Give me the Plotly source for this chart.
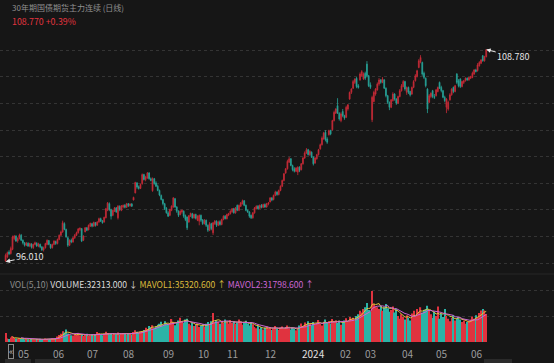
import pandas as pd
import plotly.graph_objects as go

# ---------------- data ----------------
open_ = [96.05,96.30,96.60,96.50,96.75,97.40,97.55,97.25,97.40,97.60,
97.30,97.15,97.00,97.12,96.95,97.08,96.85,97.05,97.12,96.95,
97.05,96.90,96.72,96.85,97.05,97.28,97.05,96.85,97.05,97.22,
97.10,97.35,97.60,97.80,98.30,97.95,97.45,97.00,97.30,97.20,
97.45,97.60,97.75,97.95,98.00,97.30,97.80,98.05,97.92,98.15,
98.30,98.15,98.36,98.20,98.40,98.60,98.45,98.40,98.65,99.10,
99.50,99.15,98.80,99.05,99.25,98.65,99.35,99.10,99.30,99.40,
99.28,99.50,99.38,99.48,99.72,100.15,100.75,100.52,100.42,100.70,
101.25,100.95,101.05,101.35,101.00,100.28,101.00,100.75,100.55,100.30,
100.00,99.75,99.50,99.22,98.95,98.80,99.10,99.30,99.80,99.30,
99.05,98.85,99.00,99.05,98.78,98.70,98.40,98.75,98.90,98.65,
98.85,98.50,98.45,98.80,98.52,98.30,98.50,98.20,97.90,98.30,
97.75,98.30,98.45,98.20,98.42,98.25,98.55,98.75,98.60,98.82,
98.90,99.02,99.20,98.95,99.40,99.10,99.35,99.50,99.68,99.40,
99.10,99.00,98.80,98.65,98.95,99.20,99.35,99.22,99.40,99.28,
99.45,99.30,99.48,99.60,99.85,99.75,100.00,100.20,100.05,100.30,
100.55,100.90,101.35,101.60,102.00,102.20,101.80,101.60,101.45,101.40,
101.70,101.55,101.90,102.25,102.55,102.75,102.45,102.60,102.30,101.95,
102.20,102.45,102.80,103.05,103.40,103.80,103.40,103.65,103.90,103.95,
104.50,104.95,105.40,104.95,104.50,105.05,104.80,104.70,105.20,105.80,
106.20,106.45,106.80,107.05,106.60,106.95,107.20,107.00,107.35,107.90,
107.20,106.65,104.55,105.65,106.10,106.35,106.70,106.95,106.80,106.95,
106.45,106.00,105.60,105.30,105.70,106.10,105.80,105.55,105.95,106.30,
106.55,106.85,106.20,106.50,106.25,106.10,106.50,106.90,107.15,107.70,
108.05,108.00,107.35,107.05,106.40,105.60,105.95,106.30,105.95,106.00,
106.25,106.80,106.50,106.30,105.90,105.30,105.20,105.75,106.05,106.50,
106.25,107.30,106.90,107.00,106.55,106.80,106.90,107.05,106.95,107.05,
107.10,107.30,107.55,107.50,107.80,107.95,108.40,108.10,108.35]

high = [96.50,96.62,96.70,96.92,97.58,97.62,97.60,97.48,97.70,97.68,
97.35,97.20,97.20,97.18,97.15,97.12,97.10,97.22,97.18,97.15,
97.10,96.95,96.92,97.15,97.35,97.32,97.08,97.10,97.30,97.28,
97.40,97.65,97.88,98.48,98.38,98.00,97.50,97.35,97.40,97.50,
97.68,97.82,98.04,98.08,98.04,97.60,98.10,98.10,98.25,98.36,
98.35,98.42,98.40,98.45,98.66,98.66,98.52,98.72,99.25,99.60,
99.58,99.20,99.15,99.30,99.30,99.42,99.40,99.42,99.45,99.48,
99.55,99.54,99.52,99.54,99.92,100.82,100.80,100.60,100.70,101.32,
101.30,101.18,101.41,101.40,101.08,101.08,101.05,100.85,100.65,100.35,
100.05,99.80,99.55,99.30,99.05,99.20,99.40,99.90,99.85,99.35,
99.10,99.10,99.15,99.10,98.85,98.72,98.82,98.96,98.95,98.90,
98.90,98.80,98.85,98.85,98.58,98.58,98.55,98.25,98.40,98.35,
98.40,98.52,98.50,98.48,98.50,98.60,98.80,98.82,98.90,98.95,
99.10,99.24,99.25,99.30,99.45,99.45,99.60,99.75,99.72,99.45,
99.15,99.05,98.85,99.00,99.30,99.40,99.42,99.45,99.48,99.50,
99.52,99.55,99.60,99.90,99.90,100.05,100.28,100.25,100.35,100.60,
100.95,101.35,101.65,102.15,102.31,102.25,101.85,101.70,101.70,101.75,
101.75,101.95,102.30,102.65,102.85,102.80,102.72,102.65,102.35,102.30,
102.50,102.80,103.12,103.55,103.82,103.93,103.50,103.95,103.95,104.55,
105.10,105.25,105.85,105.00,105.00,105.20,104.85,105.40,105.50,106.25,
106.45,106.95,107.05,107.12,106.70,107.40,107.54,107.40,107.45,108.08,
107.25,106.80,106.00,106.30,106.46,106.80,107.06,107.00,107.12,107.00,
106.50,106.05,105.65,105.80,106.21,106.15,105.85,106.00,106.40,106.70,
106.94,106.90,106.55,106.55,106.30,106.55,106.94,107.30,107.56,108.20,
108.44,108.05,107.45,107.10,106.45,106.10,106.20,106.35,106.10,106.40,
106.55,106.85,106.60,106.35,106.00,105.85,105.70,106.15,106.45,106.55,
106.65,107.36,107.00,107.05,106.90,106.95,107.10,107.10,107.12,107.20,
107.45,107.60,107.62,107.96,108.08,108.20,108.45,108.40,108.78]

low = [96.01,96.22,96.40,96.44,96.70,97.30,97.20,97.15,97.35,97.25,
97.05,96.92,96.95,96.90,96.88,96.80,96.78,97.00,96.90,96.88,
96.82,96.65,96.62,96.80,97.00,97.00,96.78,96.80,97.00,97.02,
97.05,97.30,97.55,97.75,97.90,97.45,96.90,96.95,97.12,97.15,
97.38,97.55,97.70,97.85,97.19,97.25,97.78,97.85,97.90,98.10,
98.08,98.12,98.12,98.18,98.35,98.40,98.30,98.36,98.62,99.05,
99.05,98.55,98.75,99.00,98.95,98.55,99.05,99.05,99.22,99.22,
99.25,99.30,99.32,99.30,99.70,100.12,100.40,100.35,100.38,100.65,
100.90,100.85,101.00,100.95,100.85,100.22,100.65,100.50,100.25,99.95,
99.70,99.40,99.12,98.90,98.70,98.75,99.05,99.25,99.25,98.95,
98.70,98.80,98.90,98.65,98.45,97.92,98.35,98.70,98.60,98.60,
98.55,98.45,98.20,98.40,98.22,98.25,98.10,97.80,97.85,97.90,
97.62,98.22,98.10,98.15,98.18,98.20,98.50,98.55,98.55,98.75,
98.85,98.95,98.90,98.90,99.05,99.05,99.30,99.45,99.35,99.05,
98.95,98.65,98.58,98.60,98.90,99.15,99.15,99.18,99.22,99.24,
99.25,99.26,99.40,99.58,99.65,99.70,99.95,99.98,100.00,100.25,
100.50,100.85,101.30,101.55,101.95,101.75,101.45,101.38,101.40,101.22,
101.40,101.50,101.85,102.20,102.50,102.40,102.38,102.25,101.80,101.90,
102.15,102.40,102.75,103.00,103.35,103.25,103.10,103.60,103.62,103.90,
104.45,104.90,104.90,104.50,104.40,104.70,104.55,104.65,105.10,105.75,
106.10,106.40,106.70,106.45,106.42,106.90,107.15,106.95,106.94,107.10,
106.52,106.40,104.41,105.60,106.00,106.30,106.60,106.72,106.75,106.40,
105.90,105.50,105.13,105.25,105.65,105.70,105.45,105.50,105.90,106.25,
106.50,106.30,106.05,106.10,105.95,106.05,106.45,106.85,107.10,107.65,
107.95,107.20,107.00,106.50,104.95,105.55,105.85,105.85,105.80,105.95,
106.20,106.40,106.20,105.85,105.60,104.95,105.10,105.70,106.00,106.15,
106.20,106.70,106.50,106.46,106.50,106.70,106.85,106.90,106.90,107.00,
107.05,107.25,107.40,107.45,107.75,107.90,108.05,108.05,108.30]

close = [96.40,96.55,96.48,96.80,97.50,97.55,97.25,97.40,97.62,97.30,
97.15,97.00,97.12,96.95,97.10,96.88,97.05,97.15,96.95,97.08,
96.90,96.72,96.85,97.10,97.30,97.05,96.85,97.05,97.25,97.10,
97.35,97.60,97.80,98.35,97.95,97.50,97.00,97.30,97.20,97.45,
97.60,97.75,97.98,98.02,97.25,97.55,98.05,97.90,98.20,98.32,
98.15,98.38,98.20,98.40,98.60,98.45,98.35,98.68,99.20,99.55,
99.15,98.75,99.10,99.25,99.00,99.35,99.15,99.38,99.40,99.28,
99.50,99.38,99.48,99.35,99.88,100.78,100.50,100.42,100.65,101.25,
100.95,101.10,101.35,101.00,100.90,101.02,100.70,100.55,100.30,100.02,
99.75,99.50,99.20,98.95,98.75,99.15,99.35,99.85,99.30,99.05,
98.80,99.05,99.10,98.75,98.55,98.05,98.78,98.92,98.65,98.85,
98.62,98.75,98.80,98.50,98.30,98.50,98.20,97.90,98.30,98.00,
98.35,98.45,98.20,98.40,98.25,98.55,98.75,98.60,98.85,98.90,
99.05,99.20,98.95,99.25,99.10,99.40,99.55,99.68,99.40,99.10,
99.00,98.75,98.65,98.95,99.25,99.35,99.20,99.40,99.28,99.45,
99.30,99.50,99.55,99.85,99.72,100.00,100.20,100.05,100.30,100.55,
100.90,101.30,101.60,102.05,102.20,101.80,101.55,101.45,101.65,101.70,
101.50,101.90,102.25,102.55,102.75,102.45,102.65,102.30,101.90,102.25,
102.45,102.75,103.05,103.45,103.75,103.35,103.20,103.90,103.70,104.50,
105.00,105.20,104.95,104.60,104.90,104.80,104.65,105.30,105.45,106.20,
106.40,106.85,107.00,106.55,106.50,107.30,107.45,107.30,107.05,107.20,
106.60,106.50,105.90,106.20,106.40,106.70,106.95,106.80,107.00,106.45,
106.00,105.60,105.30,105.75,106.10,105.80,105.55,105.95,106.30,106.60,
106.85,106.40,106.50,106.20,106.05,106.50,106.85,107.20,107.50,108.10,
108.30,107.30,107.10,106.60,105.20,106.00,106.15,105.95,105.90,106.35,
106.50,106.45,106.30,105.90,105.70,105.80,105.60,106.05,106.40,106.25,
106.60,106.80,106.60,106.55,106.85,106.90,107.05,106.95,107.10,107.15,
107.35,107.55,107.45,107.85,108.00,108.15,108.10,108.35,108.77]

volume = [10500,4200,3600,
5200,6800,4800,4000,3800,4500,3600,3900,3200,3500,
3300,2800,3600,3000,2600,3400,2900,3800,3100,2700,4200,3500,3000,3300,4000,3600,4100,
6500,8200,9500,12500,11000,14500,9800,8600,
8000,7500,9200,8800,10500,7800,8200,7000,8500,9600,7200,8000,8800,7600,9000,11500,10200,8400,7800,9500,12000,10500,9000,
9500,8800,10200,9000,11000,8600,9800,10500,9200,8800,10000,9400,8600,11500,13500,12000,10500,11800,12500,14000,
16500,15000,18500,17000,19500,16000,18000,20000,
21000,23500,19000,24000,22000,20500,21500,26500,23000,19500,22500,
25000,28000,24000,22000,26000,27000,
21000,19500,22000,18500,20000,21500,17500,19000,20500,18000,21000,
23000,20000,24000,33500,22500,25000,
23500,21000,24500,22000,26000,23000,21500,25500,22000,
24000,21000,22500,26000,23500,20000,22000,24500,21500,19000,23000,20500,
17500,16000,18500,15000,17000,14500,16500,18000,15500,17000,14000,16000,18500,15500,
14000,16500,18000,15000,17500,19000,16000,14500,17000,15500,13500,16000,
19000,21500,18500,22500,20000,24000,21000,19500,23000,20500,22000,25500,21000,19000,23500,26000,22000,
24000,21500,26500,23000,25000,22000,24500,20000,23000,
25000,27500,24000,29000,26500,28000,25000,30000,
32000,36000,34000,38000,40000,45000,37000,35000,59000,44000,41000,40000,
38000,42000,36000,40000,44000,39000,35000,37000,41000,34000,38000,
30000,27000,32000,29000,26000,31000,28000,25000,
33000,36000,31000,38000,35000,40000,34000,37000,
38000,42000,36000,
32000,28000,35000,30000,41000,27000,33000,29000,
38000,30000,27000,24000,28000,31000,25000,27000,29000,26000,23000,25000,
21000,23000,24000,
26000,29500,27000,30873,28000,
33500,36500,38000,36300,32313]

closed_days = ["2023-05-01","2023-05-02","2023-05-03","2023-06-22","2023-06-23",
               "2023-09-29","2023-10-02","2023-10-03","2023-10-04","2023-10-05","2023-10-06",
               "2024-01-01","2024-02-09","2024-02-12","2024-02-13","2024-02-14","2024-02-15",
               "2024-02-16","2024-04-04","2024-04-05","2024-05-01","2024-05-02","2024-05-03",
               "2024-06-10"]

month_labels = ["05","06","07","08","09","10","11","12","2024","02","03","04","05","06"]

title_text = "30年期国债期货主力连续 (日线)"
price_text = "108.770 +0.39%"

# ---------------- preparation ----------------
n = min(len(open_), len(high), len(low), len(close), len(volume))
open_, high, low, close, volume = open_[:n], high[:n], low[:n], close[:n], volume[:n]

days = [d.strftime("%Y-%m-%d") for d in pd.bdate_range("2023-04-21", "2024-07-31")]
dates = [d for d in days if d not in closed_days][:n]
idx = list(range(n))

month_start = []
seen = set()
for i, d in enumerate(dates):
    ym = d[:7]
    if ym not in seen:
        seen.add(ym)
        month_start.append(i)
month_start = month_start[1:1 + len(month_labels)]

RED = "#c62b37"
TEAL = "#27a398"
VRED = "#e0333f"
VTEAL = "#2bb3a7"
BG = "#161616"
GRID = "#343434"

vol_colors = [VRED if c >= o else VTEAL for o, c in zip(open_, close)]
vs = pd.Series(volume, dtype=float)
ma5 = vs.rolling(5, min_periods=5).mean()
ma10 = vs.rolling(10, min_periods=10).mean()

H = 363.0
def py(px):
    return 1 - px / H

fig = go.Figure()
fig.add_trace(go.Candlestick(
    x=idx, open=open_, high=high, low=low, close=close,
    increasing=dict(line=dict(color=RED, width=0.8), fillcolor=RED),
    decreasing=dict(line=dict(color=TEAL, width=0.8), fillcolor=TEAL),
    whiskerwidth=0, xaxis="x", yaxis="y", hoverinfo="skip"))
fig.add_trace(go.Bar(x=idx, y=volume, marker=dict(color=vol_colors, line=dict(width=0)),
                     xaxis="x", yaxis="y2", hoverinfo="skip"))
fig.add_trace(go.Scatter(x=idx, y=ma5, mode="lines", line=dict(color="#e2c13e", width=1),
                         xaxis="x", yaxis="y2", hoverinfo="skip"))
fig.add_trace(go.Scatter(x=idx, y=ma10, mode="lines", line=dict(color="#cc66d4", width=1),
                         xaxis="x", yaxis="y2", hoverinfo="skip"))

FONT = "Noto Sans CJK SC, Noto Sans, sans-serif"
ann = []
ann.append(dict(text=title_text, x=10/554, y=py(7.5), xref="paper", yref="paper",
                xanchor="left", yanchor="middle", showarrow=False,
                font=dict(size=8, color="#909090", family=FONT)))
ann.append(dict(text=price_text, x=10/554, y=py(22), xref="paper", yref="paper",
                xanchor="left", yanchor="middle", showarrow=False,
                font=dict(size=8.8, color="#e3343f", family=FONT)))
vol_head = ("<span style='color:#8c8c8c'>VOL(5,10)</span> "
            "<span style='color:#dcdcdc'>VOLUME:32313.000 ↓</span> "
            "<span style='color:#dcbb3c'>MAVOL1:35320.600 ↑</span> "
            "<span style='color:#cc66d4'>MAVOL2:31798.600 ↑</span>")
ann.append(dict(text=vol_head, x=8/554, y=py(284), xref="paper", yref="paper",
                xanchor="left", yanchor="middle", showarrow=False,
                font=dict(size=8.6, color="#dcdcdc", family=FONT)))
# extreme labels
ann.append(dict(text="96.010", x=0, y=min(low), xref="x", yref="y",
                ax=24, ay=-5, showarrow=True, arrowhead=2, arrowsize=0.9, arrowwidth=1,
                arrowcolor="#e6e6e6", font=dict(size=9, color="#e6e6e6", family=FONT)))
ann.append(dict(text="108.780", x=n-1, y=max(high), xref="x", yref="y",
                ax=27, ay=7, showarrow=True, arrowhead=2, arrowsize=0.9, arrowwidth=1,
                arrowcolor="#e6e6e6", font=dict(size=9, color="#e6e6e6", family=FONT)))
for i, lab in zip(month_start, month_labels):
    ann.append(dict(text=lab, x=i, y=py(353.5), xref="x", yref="paper",
                    xanchor="left", yanchor="middle", showarrow=False,
                    font=dict(size=10, color="#e0e0e0" if lab == "2024" else "#9c9c9c",
                              family=FONT)))
ann.append(dict(text="«", x=10.5/554, y=py(351.5), xref="paper", yref="paper",
                xanchor="center", yanchor="middle", showarrow=False,
                bordercolor="#8a8a8a", borderwidth=1, borderpad=0,
                font=dict(size=9, color="#bbbbbb", family=FONT)))

shapes = [
    dict(type="line", xref="paper", yref="paper", x0=0, x1=1, y0=py(274), y1=py(274),
         line=dict(color="#272727", width=1)),
]
for x0, x1 in [(5, 31), (35, 60), (484, 512)]:
    shapes.append(dict(type="rect", xref="paper", yref="paper", x0=x0/554, x1=x1/554,
                       y0=0, y1=py(359), fillcolor="#2a2a2a", line=dict(width=0)))

fig.update_layout(
    width=554, height=363, margin=dict(l=0, r=0, t=0, b=0),
    paper_bgcolor=BG, plot_bgcolor=BG, showlegend=False, bargap=0.3,
    xaxis=dict(range=[-3.24, 317.2], showgrid=False, showticklabels=False, zeroline=False,
               showline=False, ticks="", rangeslider=dict(visible=False), anchor="y2"),
    yaxis=dict(domain=[py(272), py(20)], range=[95.39, 110.555],
               tickvals=[95.93, 97.53, 99.13, 100.73, 102.33, 103.93, 105.53, 107.13, 108.73],
               showticklabels=False, showgrid=True, gridcolor=GRID, griddash="dot",
               gridwidth=1, zeroline=False, showline=False, ticks=""),
    yaxis2=dict(domain=[py(342.5), py(285)], range=[-500, 65780],
                tickvals=[0, 30000, 60000], showticklabels=False, showgrid=True,
                gridcolor=GRID, griddash="dot", gridwidth=1, zeroline=False,
                showline=False, ticks=""),
    annotations=ann, shapes=shapes,
)

fig.write_html("out.html", config={"displayModeBar": False},
               post_script="document.body.style.margin='0';document.body.style.background='#161616';")
